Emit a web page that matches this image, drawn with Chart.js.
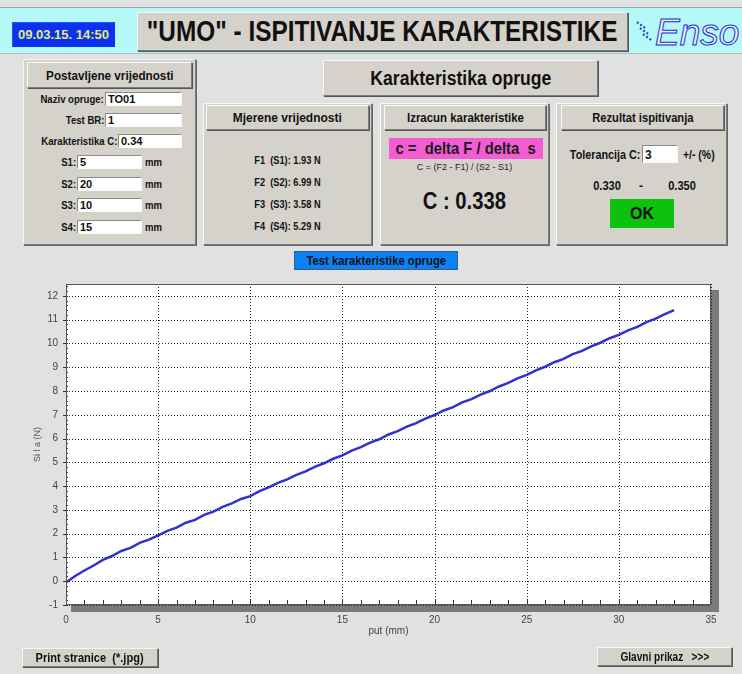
<!DOCTYPE html>
<html>
<head>
<meta charset="utf-8">
<script src="https://cdn.jsdelivr.net/npm/chart.js@4"></script>
<style>
  html, body { margin: 0; padding: 0; }
  body { width: 742px; height: 674px; position: relative; overflow: hidden; background: #e1e1e1;
         font-family: "Liberation Sans", Arial, sans-serif; color: #111; }
  .a { position: absolute; }
  .s { display: inline-block; white-space: nowrap; transform: scaleX(0.87); }
  .L .s { transform-origin: left center; }
  .R .s { transform-origin: right center; }
  .hdr { left: 0; top: 7px; width: 742px; height: 45px; background: #b4f8f8; border-top: 1px solid #9aa; border-bottom: 1px solid #bbb; }
  .date { left: 12px; top: 22px; width: 103px; height: 25px; background: #0a32f0; color: #e8e878; font-weight: bold; font-size: 13px;
          display: flex; align-items: center; justify-content: center; box-shadow: inset 1px 1px 0 #2a50ff; }
  .btn { background: #d5d2cc; border: 1px solid; border-color: #f6f6f6 #7c7c7c #7c7c7c #f6f6f6; box-shadow: 1px 1px 0 #555;
         display: flex; align-items: center; justify-content: center; font-weight: bold; box-sizing: border-box; }
  .panel { background: #d5d2cc; border: 1px solid; border-color: #f6f6f6 #7c7c7c #7c7c7c #f6f6f6; box-shadow: 1px 1px 0 #666; box-sizing: border-box; }
  .lbl { font-weight: bold; font-size: 11px; text-align: right; white-space: nowrap; }
  .txt { font-weight: bold; font-size: 11px; white-space: nowrap; }
  .inp { background: #fff; border: 1px solid; border-color: #8a8a8a #fafafa #fafafa #8a8a8a; font-weight: bold; font-size: 11px;
         box-sizing: border-box; padding-left: 2px; line-height: 12px; }
  .logo { left: 655px; top: 12px; font-style: italic; font-size: 37px;
          color: #e6eeff; -webkit-text-stroke: 1px #1d2fc8; }
  .spd { width: 10px; border-top: 2px dotted #2a3ac8; transform: rotate(35deg); }
  #wrap { left: 0; top: 270px; width: 742px; height: 390px; }
</style>
</head>
<body>
<div class="a hdr"></div>
<div class="a date">09.03.15. 14:50</div>
<div class="a btn" style="left:137px;top:12px;width:491px;height:39px;font-size:29px;"><span class="s" style="transform:scaleX(0.84)">"UMO" - ISPITIVANJE KARAKTERISTIKE</span></div>
<div class="a spd" style="left:636px;top:24px;"></div>
<div class="a spd" style="left:639px;top:30px;"></div>
<div class="a spd" style="left:642px;top:36px;"></div>
<div class="a logo">Enso</div>

<!-- Postavljene vrijednosti -->
<div class="a panel" style="left:23px;top:59px;width:173px;height:186px;"></div>
<div class="a btn" style="left:27px;top:62px;width:165px;height:26px;font-size:13px;"><span class="s" style="transform:scaleX(0.9)">Postavljene vrijednosti</span></div>
<div class="a lbl R" style="left:20px;top:93px;width:84px;"><span class="s">Naziv opruge:</span></div>
<div class="a inp" style="left:105px;top:92px;width:77px;height:14px;">TO01</div>
<div class="a lbl R" style="left:20px;top:114px;width:84px;"><span class="s">Test BR:</span></div>
<div class="a inp" style="left:105px;top:113px;width:77px;height:14px;">1</div>
<div class="a lbl R" style="left:10px;top:135px;width:107px;"><span class="s">Karakteristika C:</span></div>
<div class="a inp" style="left:118px;top:134px;width:64px;height:14px;">0.34</div>
<div class="a lbl R" style="left:40px;top:156px;width:36px;"><span class="s">S1:</span></div>
<div class="a inp" style="left:77px;top:155px;width:65px;height:14px;">5</div>
<div class="a txt L" style="left:145px;top:156px;"><span class="s">mm</span></div>
<div class="a lbl R" style="left:40px;top:178px;width:36px;"><span class="s">S2:</span></div>
<div class="a inp" style="left:77px;top:177px;width:65px;height:14px;">20</div>
<div class="a txt L" style="left:145px;top:178px;"><span class="s">mm</span></div>
<div class="a lbl R" style="left:40px;top:199px;width:36px;"><span class="s">S3:</span></div>
<div class="a inp" style="left:77px;top:198px;width:65px;height:14px;">10</div>
<div class="a txt L" style="left:145px;top:199px;"><span class="s">mm</span></div>
<div class="a lbl R" style="left:40px;top:221px;width:36px;"><span class="s">S4:</span></div>
<div class="a inp" style="left:77px;top:220px;width:65px;height:14px;">15</div>
<div class="a txt L" style="left:145px;top:221px;"><span class="s">mm</span></div>

<!-- Karakteristika opruge -->
<div class="a btn" style="left:323px;top:60px;width:275px;height:36px;font-size:20px;"><span class="s" style="transform:scaleX(0.88)">Karakteristika opruge</span></div>

<!-- Mjerene vrijednosti -->
<div class="a panel" style="left:203px;top:103px;width:169px;height:142px;"></div>
<div class="a btn" style="left:206px;top:105px;width:163px;height:25px;font-size:13px;"><span class="s" style="transform:scaleX(0.92)">Mjerene vrijednosti</span></div>
<div class="a txt" style="left:203px;top:154px;width:169px;text-align:center;"><span class="s" style="transform:scaleX(0.84)">F1&nbsp; (S1): 1.93 N</span></div>
<div class="a txt" style="left:203px;top:176px;width:169px;text-align:center;"><span class="s" style="transform:scaleX(0.84)">F2&nbsp; (S2): 6.99 N</span></div>
<div class="a txt" style="left:203px;top:198px;width:169px;text-align:center;"><span class="s" style="transform:scaleX(0.84)">F3&nbsp; (S3): 3.58 N</span></div>
<div class="a txt" style="left:203px;top:220px;width:169px;text-align:center;"><span class="s" style="transform:scaleX(0.84)">F4&nbsp; (S4): 5.29 N</span></div>

<!-- Izracun karakteristike -->
<div class="a panel" style="left:380px;top:103px;width:169px;height:142px;"></div>
<div class="a btn" style="left:384px;top:105px;width:162px;height:25px;font-size:13px;"><span class="s" style="transform:scaleX(0.88)">Izracun karakteristike</span></div>
<div class="a" style="left:389px;top:138px;width:154px;height:21px;background:#f45cd4;font-weight:bold;font-size:17px;display:flex;align-items:center;justify-content:center;color:#1a1a1a;"><span class="s" style="white-space:pre;transform:scaleX(0.87)">c =  delta F / delta  s</span></div>
<div class="a" style="left:380px;top:162px;width:169px;text-align:center;font-size:9px;color:#222;">C = (F2 - F1) / (S2 - S1)</div>
<div class="a" style="left:380px;top:188px;width:169px;text-align:center;font-weight:bold;font-size:23px;"><span class="s" style="transform:scaleX(0.88)">C : 0.338</span></div>

<!-- Rezultat ispitivanja -->
<div class="a panel" style="left:556px;top:103px;width:171px;height:142px;"></div>
<div class="a btn" style="left:561px;top:105px;width:163px;height:25px;font-size:13px;"><span class="s" style="transform:scaleX(0.86)">Rezultat ispitivanja</span></div>
<div class="a lbl R" style="left:560px;top:148px;width:80px;font-size:12px;"><span class="s" style="transform:scaleX(0.9)">Tolerancija C:</span></div>
<div class="a inp" style="left:642px;top:145px;width:36px;height:18px;padding-top:3px;font-size:12px;">3</div>
<div class="a txt L" style="left:683px;top:148px;font-size:12px;"><span class="s">+/- (%)</span></div>
<div class="a txt" style="left:591px;top:179px;width:32px;text-align:center;font-size:12px;"><span class="s" style="transform:scaleX(0.92)">0.330</span></div>
<div class="a txt" style="left:635px;top:179px;width:12px;text-align:center;font-size:12px;">-</div>
<div class="a txt" style="left:666px;top:179px;width:32px;text-align:center;font-size:12px;"><span class="s" style="transform:scaleX(0.92)">0.350</span></div>
<div class="a" style="left:610px;top:199px;width:64px;height:29px;background:#0cc20c;font-weight:bold;font-size:16px;display:flex;align-items:center;justify-content:center;">OK</div>

<!-- Test karakteristike opruge -->
<div class="a" style="left:294px;top:251px;width:164px;height:19px;background:#0a82f6;border:1px solid #3a5a8a;box-sizing:border-box;font-weight:bold;font-size:12px;display:flex;align-items:center;justify-content:center;"><span class="s" style="transform:scaleX(0.94)">Test karakteristike opruge</span></div>

<div id="wrap" class="a"><canvas id="silaChart"></canvas></div>

<div class="a btn" style="left:22px;top:648px;width:136px;height:19px;font-size:13px;z-index:2;"><span class="s" style="transform:scaleX(0.85)">Print stranice&nbsp; (*.jpg)</span></div>
<div class="a btn" style="left:597px;top:647px;width:135px;height:19px;font-size:12px;z-index:2;"><span class="s" style="white-space:pre;transform:scaleX(0.84)">Glavni prikaz   &gt;&gt;&gt;</span></div>

<script>
// Podaci s grafa: put (mm) i sila (N)
const putMm = [0, 0.5, 1, 1.5, 2, 2.5, 3, 3.5, 4, 4.5, 5, 5.5, 6, 6.5, 7, 7.5, 8, 8.5, 9, 9.5,
    10, 10.5, 11, 11.5, 12, 12.5, 13, 13.5, 14, 14.5, 15, 15.5, 16, 16.5, 17, 17.5, 18, 18.5, 19, 19.5,
    20, 20.5, 21, 21.5, 22, 22.5, 23, 23.5, 24, 24.5, 25, 25.5, 26, 26.5, 27, 27.5, 28, 28.5, 29, 29.5,
    30, 30.5, 31, 31.5, 32, 32.5, 33];
const silaN = [-0.05, 0.22, 0.45, 0.66, 0.90, 1.06, 1.27, 1.40, 1.61, 1.75, 1.93, 2.12, 2.25, 2.46, 2.58, 2.79, 2.93, 3.13, 3.27, 3.46,
    3.58, 3.79, 3.95, 4.14, 4.28, 4.47, 4.62, 4.81, 4.96, 5.15, 5.29, 5.49, 5.64, 5.83, 5.97, 6.17, 6.31, 6.50, 6.65, 6.84,
    6.99, 7.18, 7.32, 7.52, 7.66, 7.85, 8.00, 8.19, 8.34, 8.53, 8.68, 8.87, 9.02, 9.21, 9.35, 9.55, 9.69, 9.88, 10.03, 10.22,
    10.36, 10.55, 10.70, 10.90, 11.04, 11.23, 11.40];
const xTicks = [0, 5, 10, 15, 20, 25, 30, 35];
const yTicks = [-1, 0, 1, 2, 3, 4, 5, 6, 7, 8, 9, 10, 11, 12];

// Okvir grafa sa sjenom, tockasta mreza i sitne oznake
const okvir = {
    id: 'okvir',
    beforeDraw(chart) {
        const { ctx, chartArea: a } = chart;
        ctx.save();
        ctx.fillStyle = '#7a7a7a';
        ctx.fillRect(a.left + 5, a.top + 6, a.right - a.left + 3, a.bottom - a.top + 1);
        ctx.fillStyle = '#ffffff';
        ctx.fillRect(a.left, a.top, a.right - a.left, a.bottom - a.top);
        ctx.restore();
    },
    beforeDatasetsDraw(chart) {
        const { ctx, chartArea: a, scales } = chart;
        ctx.save();
        ctx.strokeStyle = '#222';
        ctx.lineWidth = 1;
        ctx.setLineDash([1, 2]);
        ctx.beginPath();
        xTicks.forEach(v => {
            const x = Math.round(scales.x.getPixelForValue(v)) + 0.5;
            ctx.moveTo(x, a.top);
            ctx.lineTo(x, a.bottom);
        });
        yTicks.forEach(v => {
            const y = Math.round(scales.y.getPixelForValue(v)) + 0.5;
            ctx.moveTo(a.left, y);
            ctx.lineTo(a.right, y);
        });
        ctx.stroke();
        ctx.restore();
    },
    afterDatasetsDraw(chart) {
        const { ctx, chartArea: a, scales } = chart;
        ctx.save();
        ctx.strokeStyle = '#333';
        ctx.lineWidth = 1;
        ctx.beginPath();
        for (let v = -1; v <= 12.5; v += 0.2) {
            const y = Math.round(scales.y.getPixelForValue(v)) + 0.5;
            ctx.moveTo(a.left, y);
            ctx.lineTo(a.left + 2, y);
        }
        for (let v = 1; v < 35; v++) {
            const x = Math.round(scales.x.getPixelForValue(v)) + 0.5;
            ctx.moveTo(x, a.bottom - 1);
            ctx.lineTo(x, a.bottom - 5);
        }
        // kratke oznake lijevo od okvira
        yTicks.forEach(v => {
            const y = Math.round(scales.y.getPixelForValue(v)) + 0.5;
            ctx.moveTo(a.left - 3, y);
            ctx.lineTo(a.left, y);
        });
        ctx.stroke();
        ctx.strokeStyle = '#555';
        ctx.strokeRect(a.left + 0.5, a.top + 0.5, a.right - a.left - 1, a.bottom - a.top - 1);
        ctx.restore();
    }
};

document.addEventListener('DOMContentLoaded', function() {
    const ctx = document.getElementById('silaChart').getContext('2d');
    new Chart(ctx, {
        type: 'scatter',
        data: {
            datasets: [{
                label: 'Sila',
                data: putMm.map((x, i) => ({ x: x, y: silaN[i] })),
                showLine: true,
                borderColor: 'rgba(28, 28, 200, 0.9)',
                borderWidth: 2.5,
                pointRadius: 0,
                tension: 0
            }]
        },
        options: {
            responsive: true,
            maintainAspectRatio: false,
            animation: false,
            layout: { padding: { top: 11, right: 31, left: 0, bottom: 0 } },
            plugins: {
                legend: { display: false },
                tooltip: { enabled: false }
            },
            scales: {
                x: {
                    type: 'linear',
                    min: 0,
                    max: 35,
                    afterBuildTicks: s => { s.ticks = xTicks.map(v => ({ value: v })); },
                    afterFit: s => { s.height = 55; },
                    ticks: { padding: 9, color: '#444', font: { family: 'Liberation Sans', size: 10 } },
                    grid: { display: false, drawTicks: false },
                    border: { display: false },
                    title: { display: true, text: 'put (mm)', color: '#444', font: { family: 'Liberation Sans', size: 10 }, padding: { top: 23, bottom: 23 } }
                },
                y: {
                    type: 'linear',
                    min: -1,
                    max: 12.5,
                    afterBuildTicks: s => { s.ticks = yTicks.map(v => ({ value: v })); },
                    afterFit: s => { s.width = 66; },
                    ticks: { padding: 8, color: '#444', font: { family: 'Liberation Sans', size: 10 } },
                    grid: { display: false, drawTicks: false },
                    border: { display: false },
                    title: { display: true, text: 'Si l a (N)', color: '#555', font: { family: 'Liberation Sans', size: 9 }, padding: { top: 32, bottom: 0 } }
                }
            }
        },
        plugins: [okvir]
    });
});
</script>
</body>
</html>
